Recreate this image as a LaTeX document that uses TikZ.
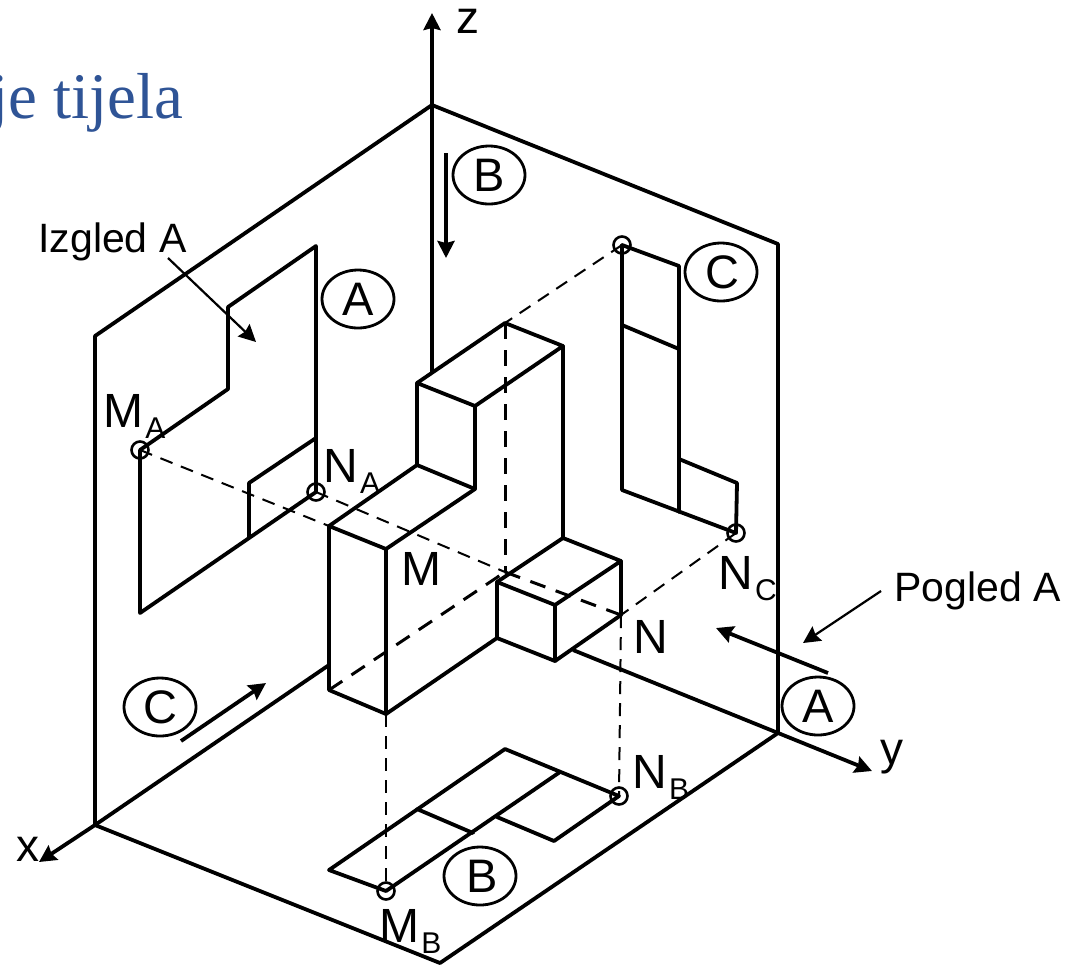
\documentclass[tikz,border=0pt]{standalone}
\usepackage{fontspec}
\setmainfont{Liberation Sans}
\newfontfamily\titlefont{Liberation Serif}
\usetikzlibrary{arrows.meta,shapes.geometric}
\definecolor{titleblue}{RGB}{47,84,150}
\newcommand{\lblsub}[2]{\fontsize{24}{24}\selectfont #1\hspace{1pt}\raisebox{-5.5pt}{\fontsize{15}{15}\selectfont #2}}
\tikzset{
  ln/.style={line width=1.9pt,line cap=round,line join=round},
  hid/.style={line width=1.5pt,dash pattern=on 8pt off 5.5pt},
  proj/.style={line width=1pt,dash pattern=on 6.5pt off 4.5pt},
  arr/.style={line width=1.9pt,-{Stealth[length=8.5pt,width=8.5pt,inset=1pt]}},
  tarr/.style={line width=1.1pt,-{Stealth[length=8.5pt,width=8.5pt,inset=1pt]}},
  circ/.style={ellipse,draw,line width=1.4pt,minimum width=36pt,minimum height=29pt,inner sep=0pt,font=\fontsize{23.5}{23.5}\selectfont},
  pt/.style={circle,draw,line width=1.3pt,minimum size=8.5pt,inner sep=0pt},
  lbl/.style={anchor=base west,inner sep=0pt,font=\fontsize{24}{24}\selectfont},
  axl/.style={anchor=base west,inner sep=0pt,font=\fontsize{23}{23}\selectfont},
  captxt/.style={anchor=base west,inner sep=0pt,font=\fontsize{20.5}{20.5}\selectfont}
}
\begin{document}
\begin{tikzpicture}[x=0.5pt,y=-0.5pt]
\useasboundingbox (0,0) rectangle (1069,965);
% frame
\coordinate (O) at (432,105); \coordinate (Zt) at (432,13);
\coordinate (Wl) at (95,336); \coordinate (Xo) at (95,825);
\coordinate (Wr) at (778,244); \coordinate (Yo) at (778,733);
\coordinate (Fb) at (440,963); \coordinate (Xe) at (39,862);
\coordinate (Ys) at (573,650); \coordinate (Ye) at (872,771);
\coordinate (Zb) at (432,372); \coordinate (Fl) at (329,665);
% solid
\coordinate (P1) at (505,323); \coordinate (P2) at (563,346);
\coordinate (P3) at (417,383); \coordinate (P4) at (475,406);
\coordinate (P5) at (417,465); \coordinate (P6) at (475,489);
\coordinate (P7) at (329,526); \coordinate (P8) at (386,549);
\coordinate (P9) at (329,690); \coordinate (P10) at (386,714);
\coordinate (P11) at (563,538); \coordinate (P12) at (621,561);
\coordinate (P13) at (497,582); \coordinate (P14) at (555,605);
\coordinate (P15) at (497,638); \coordinate (P16) at (555,661);
\coordinate (P17) at (621,615); \coordinate (Pc) at (505,572);
% view A
\coordinate (A1) at (228,389); \coordinate (A2) at (228,307);
\coordinate (A3) at (316,246); \coordinate (A4) at (140,613);
\coordinate (A5) at (249,538); \coordinate (A6) at (249,483);
\coordinate (A7) at (316,438);
% view C
\coordinate (C1) at (679,266); \coordinate (C2) at (622,325);
\coordinate (C3) at (679,349); \coordinate (C4) at (622,490);
\coordinate (C5) at (679,512); \coordinate (C6) at (679,459);
\coordinate (C7) at (737,483);
% view B
\coordinate (B1) at (329,870); \coordinate (B2) at (505,749);
\coordinate (B3) at (417,809); \coordinate (B4) at (473,833);
\coordinate (B5) at (560,772); \coordinate (B6) at (497,817);
\coordinate (B7) at (554,841);
% marked points
\node[pt] (MA) at (140,450) {};
\node[pt] (NA) at (316,492) {};
\node[pt] (NC) at (736,533) {};
\node[pt] (CT) at (622,245) {};
\node[pt] (MB) at (386,891) {};
\node[pt] (NB) at (619,796) {};
% frame lines
\draw[ln] (Xo) -- (Wl) -- (O) -- (Wr) -- (Yo) -- (Fb) -- (Xo);
\draw[ln] (Xo) -- (Fl);
\draw[ln] (O) -- (Zb);
\draw[arr] (O) -- (Zt);
\draw[arr] (Xo) -- (Xe);
\draw[arr] (Ys) -- (Ye);
% hidden and projection lines
\draw[hid] (P1) -- (Pc);
\draw[hid] (P9) -- (Pc);
\draw[hid] (Pc) -- (P17);
\draw[proj] (MA.center) -- (P7);
\draw[proj] (NA.center) -- (Pc);
\draw[proj] (CT.center) -- (P1);
\draw[proj] (NC.center) -- (P17);
\draw[proj] (P10) -- (MB.center);
\draw[proj] (P17) -- (NB.center);
% solid body
\draw[ln] (P3) -- (P1) -- (P2) -- (P4) -- cycle;
\draw[ln] (P3) -- (P5) -- (P6) -- (P4);
\draw[ln] (P5) -- (P7) -- (P8) -- (P6);
\draw[ln] (P7) -- (P9) -- (P10) -- (P8);
\draw[ln] (P10) -- (P15) -- (P13) -- (P11) -- (P2);
\draw[ln] (P11) -- (P12) -- (P14) -- (P13);
\draw[ln] (P14) -- (P16) -- (P15);
\draw[ln] (P16) -- (P17) -- (P12);
% view A
\draw[ln] (MA.center) -- (A1) -- (A2) -- (A3) -- (NA.center);
\draw[ln] (MA.center) -- (A4) -- (NA.center);
\draw[ln] (A5) -- (A6) -- (A7);
% view C
\draw[ln] (CT.center) -- (C1) -- (C5);
\draw[ln] (CT.center) -- (C4) -- (NC.center) -- (C7) -- (C6);
\draw[ln] (C2) -- (C3);
% view B
\draw[ln] (MB.center) -- (B1) -- (B2) -- (NB.center) -- (B7) -- (B6);
\draw[ln] (MB.center) -- (B5);
\draw[ln] (B3) -- (B4);
% view arrows
\coordinate (aB1) at (446,153); \coordinate (aB2) at (446,258);
\coordinate (aC1) at (181,741); \coordinate (aC2) at (266,683);
\coordinate (aA1) at (828,673); \coordinate (aA2) at (716,628);
\coordinate (aP1) at (881,591); \coordinate (aP2) at (803,643);
\coordinate (aI1) at (168,258); \coordinate (aI2) at (256,342);
\draw[arr] (aB1) -- (aB2);
\draw[arr] (aC1) -- (aC2);
\draw[arr] (aA1) -- (aA2);
\draw[tarr] (aP1) -- (aP2);
\draw[tarr] (aI1) -- (aI2);
% circled letters
\node[circ] (cB1) at (489,175) {\raisebox{-2pt}{B}};
\node[circ] (cA1) at (358,299) {\raisebox{-2pt}{A}};
\node[circ] (cC1) at (721,272) {\hspace{1.5pt}\raisebox{-3pt}{C}};
\node[circ] (cC2) at (160,707) {\raisebox{-2.5pt}{C}};
\node[circ] (cA2) at (818,706) {\raisebox{-2.5pt}{A}};
\node[circ] (cB2) at (480,876) {\hspace{2pt}\raisebox{-1pt}{B}};
% labels
\node[axl] (tz) at (456,33) {z};
\node[axl] (ty) at (880,764) {y};
\node[axl] (tx) at (16,861) {x};
\node[captxt] (tI) at (38,252) {Izgled A};
\node[captxt] (tP) at (894,601) {Pogled A};
\node[lbl] (tM) at (401,585) {M};
\node[lbl] (tN) at (633,653) {N};
\node[anchor=base west,inner sep=0pt] (tMA) at (103,427) {\lblsub{M}{A}};
\node[anchor=base west,inner sep=0pt] (tNA) at (323,482) {\lblsub{N}{A}};
\node[anchor=base west,inner sep=0pt] (tNC) at (718,589) {\lblsub{N}{C}};
\node[anchor=base west,inner sep=0pt] (tNB) at (632,788) {\lblsub{N}{B}};
\node[anchor=base west,inner sep=0pt] (tMB) at (379,942) {\lblsub{M}{B}};
\node[anchor=base west,inner sep=0pt,text=titleblue,font=\titlefont\fontsize{32.5}{32.5}\selectfont] (tT) at (-10,118) {je tijela};
\end{tikzpicture}
\end{document}
